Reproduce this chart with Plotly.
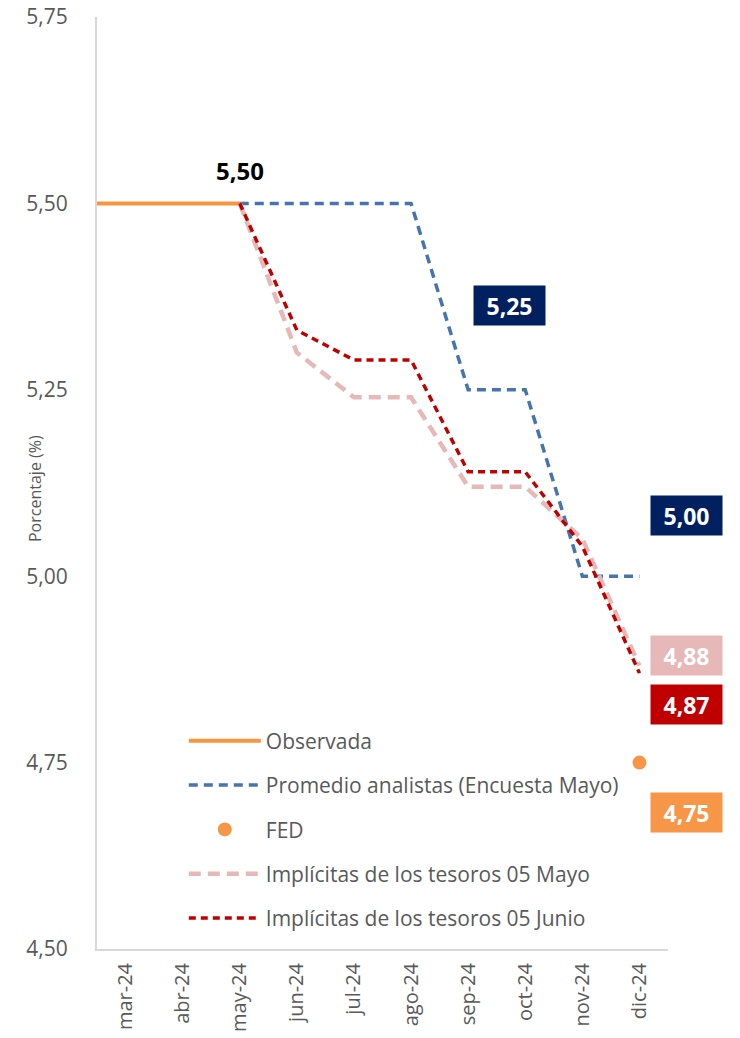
import plotly.graph_objects as go

months = ["feb-24", "mar-24", "abr-24", "may-24", "jun-24", "jul-24",
          "ago-24", "sep-24", "oct-24", "nov-24", "dic-24"]

observada = [5.50, 5.50, 5.50, 5.50, None, None, None, None, None, None, None]
analistas = [None, None, None, 5.50, 5.50, 5.50, 5.50, 5.25, 5.25, 5.00, 5.00]
fed = [None, None, None, None, None, None, None, None, None, None, 4.75]
tesoros_mayo = [None, None, None, 5.50, 5.30, 5.24, 5.24, 5.12, 5.12, 5.05, 4.88]
tesoros_junio = [None, None, None, 5.50, 5.33, 5.29, 5.29, 5.14, 5.14, 5.04, 4.87]

FONT = "Open Sans"
GREY = "#595959"

fig = go.Figure()
fig.add_trace(go.Scatter(x=months, y=observada, mode="lines", name="Observada",
                         legendgroup="a",
                         line=dict(color="#F7963F", width=4)))
fig.add_trace(go.Scatter(x=months, y=analistas, mode="lines",
                         name="Promedio analistas (Encuesta Mayo)", legendgroup="b",
                         line=dict(color="#4674AD", width=3.5, dash="9px,6px")))
fig.add_trace(go.Scatter(x=months, y=fed, mode="markers", name="FED", legendgroup="c",
                         marker=dict(color="#F79646", size=14)))
fig.add_trace(go.Scatter(x=months, y=tesoros_mayo, mode="lines",
                         name="Implícitas de los tesoros 05 Mayo", legendgroup="d",
                         line=dict(color="#E6B8B7", width=4.5, dash="12px,7px")))
fig.add_trace(go.Scatter(x=months, y=tesoros_junio, mode="lines",
                         name="Implícitas de los tesoros 05 Junio", legendgroup="e",
                         line=dict(color="#C00000", width=3.5, dash="7px,5px")))

ann = []
ann.append(dict(x="may-24", y=analistas[3], text="<b>5,50</b>", showarrow=False,
                yshift=33, font=dict(family=FONT, size=24, color="black")))
boxes = [
    ("sep-24", analistas[7], "5,25", "#002060", 41, 84),
    ("dic-24", analistas[10], "5,00", "#002060", 47, 61),
    ("dic-24", tesoros_mayo[10], "4,88", "#E6B8B7", 47, 10),
    ("dic-24", tesoros_junio[10], "4,87", "#C00000", 47, -31),
    ("dic-24", fed[10], "4,75", "#F79646", 47, -50),
]
for xm, yv, txt, col, xs, ys in boxes:
    ann.append(dict(x=xm, y=yv, text="<b>%s</b>" % txt, showarrow=False,
                    xshift=xs, yshift=ys, bgcolor=col, width=71, height=39,
                    borderpad=0, align="center", valign="middle",
                    font=dict(family=FONT, size=23, color="white")))
ann.append(dict(x=0, y=0.5, xref="paper", yref="paper", text="Porcentaje (%)",
                showarrow=False, textangle=-90, xanchor="center", yanchor="middle",
                xshift=-62, yshift=-6,
                font=dict(family=FONT, size=16, color=GREY)))

fig.update_layout(
    width=740, height=1038,
    margin=dict(l=97, r=72, t=17, b=89, autoexpand=False),
    paper_bgcolor="white", plot_bgcolor="white",
    separators=",.",
    font=dict(family=FONT, color=GREY),
    showlegend=True,
    legend=dict(x=0.152, y=0.245, xanchor="left", yanchor="top",
                bgcolor="rgba(0,0,0,0)", itemwidth=72,
                tracegroupgap=14, traceorder="grouped",
                font=dict(family=FONT, size=21, color=GREY)),
    annotations=ann,
    xaxis=dict(type="category", categoryorder="array", categoryarray=months,
               range=[0.5, 10.5], showgrid=False, zeroline=False,
               showline=True, linecolor="#D9D9D9", linewidth=2,
               ticks="", tickangle=-90, ticklabelstandoff=4, automargin=False,
               ticklabeloverflow="allow",
               tickfont=dict(family=FONT, size=20, color=GREY)),
    yaxis=dict(range=[4.5, 5.75], dtick=0.25, tick0=4.5, tickformat=".2f",
               showgrid=False, zeroline=False, showline=True,
               linecolor="#D9D9D9", linewidth=2, ticks="",
               ticklabelstandoff=23, automargin=False,
               ticklabeloverflow="allow",
               tickfont=dict(family=FONT, size=21, color=GREY)),
)

fig.write_html("out.html", config={"displayModeBar": False},
               post_script="document.body.style.margin='0px';"
                           "document.body.style.overflow='hidden';")
